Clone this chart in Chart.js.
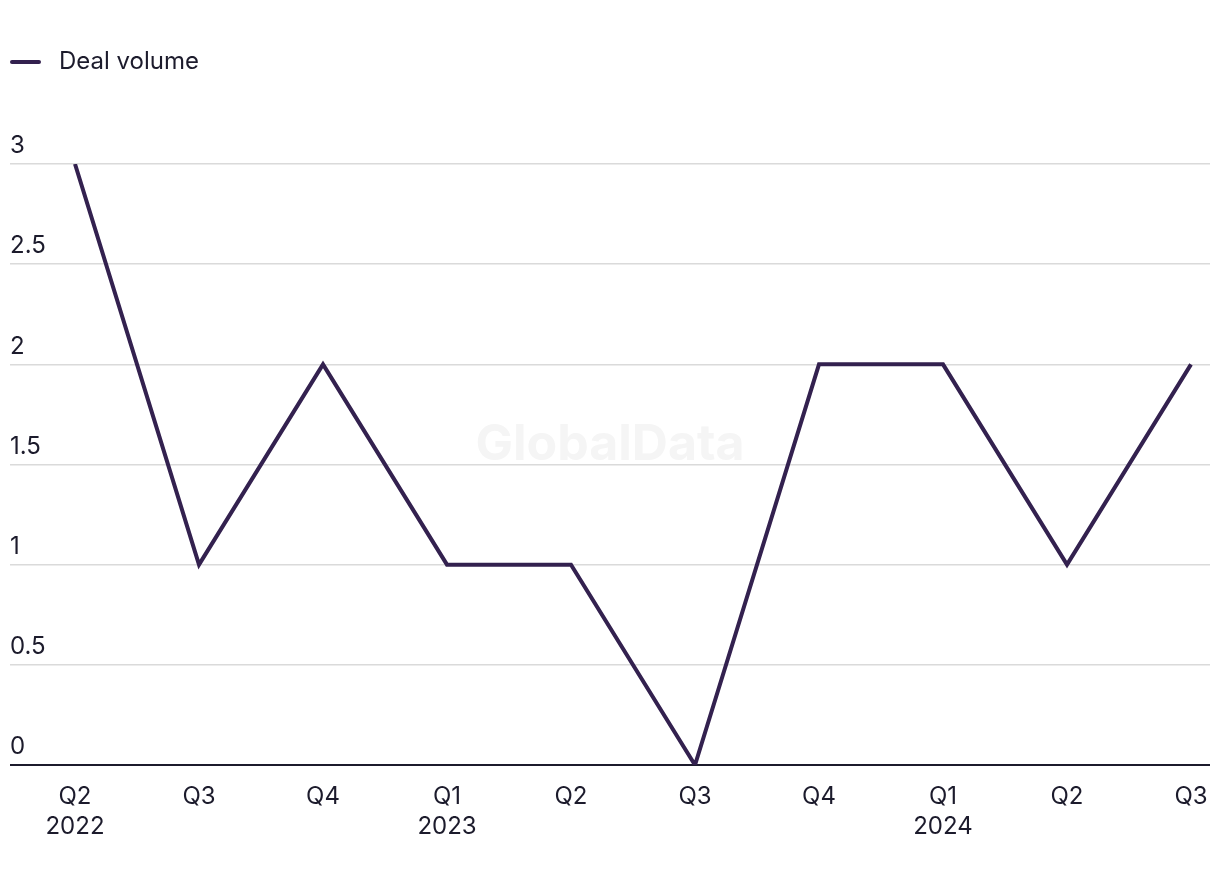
<!DOCTYPE html>
<html>
<head>
<meta charset="utf-8">
<script src="https://cdn.jsdelivr.net/npm/chart.js@4/dist/chart.umd.min.js"></script>
<style>
  html, body { margin: 0; padding: 0; background: #ffffff; }
  #wrap { width: 1220px; height: 884px; position: relative; }
</style>
</head>
<body>
<div id="wrap"><canvas id="c" width="1220" height="884"></canvas></div>
<script>
const seriesName = "Deal volume";
const categories = [["Q2", "2022"], ["Q3"], ["Q4"], ["Q1", "2023"], ["Q2"], ["Q3"], ["Q4"], ["Q1", "2024"], ["Q2"], ["Q3"]];
const dealVolume = [3, 1, 2, 1, 1, 0, 2, 2, 1, 2];
const yTicks = [0, 0.5, 1, 1.5, 2, 2.5, 3];

const lineColor = "#33214f";
const textColor = "#1c1b2c";
const FONT = "Inter, 'Liberation Sans', Arial, sans-serif";
const FONT_SIZE = 24;

const watermark = {
  id: "watermark",
  beforeDatasetsDraw(chart) {
    const ctx = chart.ctx;
    ctx.save();
    ctx.font = "bold 50px " + FONT;
    ctx.fillStyle = "#f5f5f5";
    ctx.textAlign = "center";
    ctx.textBaseline = "alphabetic";
    ctx.fillText("GlobalData", 610, 460);
    ctx.restore();
  }
};

const customLegend = {
  id: "customLegend",
  afterDraw(chart) {
    const ctx = chart.ctx;
    const ds = chart.data.datasets[0];
    ctx.save();
    ctx.strokeStyle = ds.borderColor;
    ctx.lineWidth = 4;
    ctx.lineCap = "round";
    ctx.beginPath();
    ctx.moveTo(12, 62);
    ctx.lineTo(39, 62);
    ctx.stroke();
    ctx.font = FONT_SIZE + "px " + FONT;
    ctx.fillStyle = textColor;
    ctx.textBaseline = "middle";
    ctx.textAlign = "left";
    ctx.fillText(ds.label, 59, 62);
    ctx.restore();
  }
};

new Chart(document.getElementById("c"), {
  type: "line",
  data: {
    datasets: [{
      label: seriesName,
      data: dealVolume.map((v, i) => ({ x: i, y: v })),
      borderColor: lineColor,
      backgroundColor: lineColor,
      borderWidth: 4,
      pointRadius: 0,
      pointHoverRadius: 0,
      tension: 0,
      fill: false
    }]
  },
  options: {
    responsive: false,
    animation: false,
    events: [],
    layout: { padding: { left: 10, right: 10, top: 164, bottom: 25 } },
    plugins: {
      legend: { display: false },
      tooltip: { enabled: false }
    },
    scales: {
      x: {
        type: "linear",
        min: -65 / 124,
        max: 9 + 19 / 124,
        afterBuildTicks(scale) {
          scale.ticks = categories.map((_, i) => ({ value: i }));
        },
        afterFit(scale) {
          scale.paddingLeft = 0;
          scale.paddingRight = 0;
        },
        grid: { display: false, drawTicks: false },
        border: { display: false },
        ticks: {
          autoSkip: false,
          maxRotation: 0,
          padding: 17,
          color: textColor,
          font: { family: FONT, size: FONT_SIZE, lineHeight: 30 / FONT_SIZE },
          callback: (v) => categories[v]
        }
      },
      y: {
        min: 0,
        max: 3,
        afterBuildTicks(scale) {
          scale.ticks = yTicks.map(v => ({ value: v }));
        },
        grid: {
          drawTicks: false,
          color: (c) => (c.tick && c.tick.value === 0) ? "#1c1b2c" : "#dadada",
          lineWidth: (c) => (c.tick && c.tick.value === 0) ? 2 : 1.5
        },
        border: { display: false },
        ticks: {
          mirror: true,
          padding: 0,
          labelOffset: -18,
          color: textColor,
          font: { family: FONT, size: FONT_SIZE },
          callback: (v) => String(v)
        }
      }
    }
  },
  plugins: [watermark, customLegend]
});
</script>
</body>
</html>
